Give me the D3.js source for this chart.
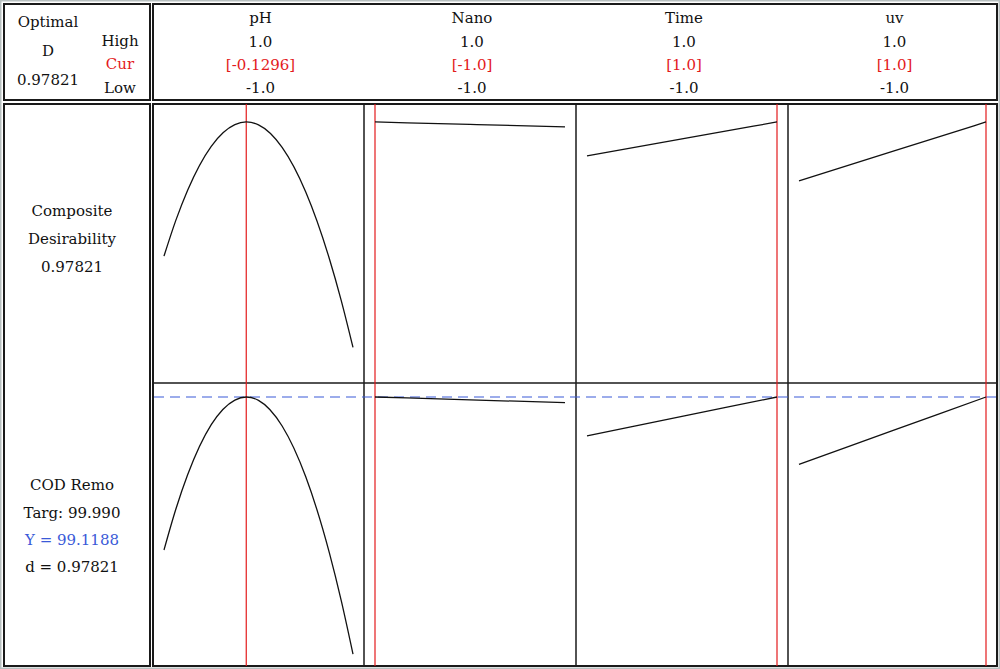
<!DOCTYPE html>
<html>
<head>
<meta charset="utf-8">
<script src="https://cdn.jsdelivr.net/npm/d3@7"></script>
<style>
  html, body { margin: 0; padding: 0; background: #fff; }
  svg { display: block; }
  text { font-family: "DejaVu Serif", serif; }
</style>
</head>
<body>
<svg id="chart" width="1000" height="669"></svg>
<script>
// ---------- data ----------
const factors    = ["pH", "Nano", "Time", "uv"];
const highLabels = ["1.0", "1.0", "1.0", "1.0"];
const curLabels  = ["[-0.1296]", "[-1.0]", "[1.0]", "[1.0]"];
const lowLabels  = ["-1.0", "-1.0", "-1.0", "-1.0"];
const curValues  = [-0.1296, -1.0, 1.0, 1.0];

const pHX    = [-1, -0.875, -0.75, -0.5, -0.25, -0.1296, 0, 0.25, 0.5, 0.75, 0.875, 1];
const desPH  = [0.6906, 0.7672, 0.8319, 0.9261, 0.9726, 0.9782, 0.9720, 0.9237, 0.8281, 0.6850, 0.5958, 0.4948];
const codPH  = [87.62, 90.68, 93.27, 97.04, 98.89, 99.12, 98.87, 96.94, 93.12, 87.40, 83.83, 79.79];

const linX    = [-1, 0, 1];
const desNano = [0.9782, 0.9730, 0.9675];
const codNano = [99.12, 98.91, 98.69];
const desTime = [0.9053, 0.9418, 0.9782];
const codTime = [96.20, 97.66, 99.12];
const desUv   = [0.8517, 0.9150, 0.9782];
const codUv   = [94.06, 96.59, 99.12];

const xValues   = [pHX, linX, linX, linX];
const desSeries = [desPH, desNano, desTime, desUv];
const codSeries = [codPH, codNano, codTime, codUv];

const optimalD  = "0.97821";
const targetY   = 99.1188;

// ---------- layout ----------
const svg = d3.select("#chart");
const L0 = 4, L1 = 150, P0 = 153, P1 = 997, T0 = 4, T1 = 100, B0 = 104, B1 = 666, RM = 383;
const colEdges = [153, 364, 576, 788, 997];
const RED = "#e31a1c", BLUE = "#3a5ad8";
const FS = 15;

// outer grey frame
svg.append("rect").attr("x", 0.5).attr("y", 0.5).attr("width", 999).attr("height", 668)
  .attr("fill", "none").attr("stroke", "#b8c0c0").attr("stroke-width", 2);

// boxes
const boxes = [[L0, T0, L1, T1], [P0, T0, P1, T1], [L0, B0, L1, B1], [P0, B0, P1, B1]];
boxes.forEach(b => {
  svg.append("rect").attr("x", b[0]).attr("y", b[1]).attr("width", b[2] - b[0]).attr("height", b[3] - b[1])
    .attr("fill", "#fff").attr("stroke", "#1a1a1a").attr("stroke-width", 2);
});

// scales
const yDes = d3.scaleLinear().domain([0.5, 1.0]).range([RM - 38, B0 + 7.8]);
const yCod = d3.scaleLinear().domain([80, 100]).range([RM + 268.3, RM + 2.3]);

// panel separators
colEdges.slice(1, 4).forEach(x => {
  svg.append("line").attr("x1", x).attr("x2", x).attr("y1", B0).attr("y2", B1)
    .attr("stroke", "#1a1a1a").attr("stroke-width", 1.5);
});
svg.append("line").attr("x1", P0).attr("x2", P1).attr("y1", RM).attr("y2", RM)
  .attr("stroke", "#1a1a1a").attr("stroke-width", 1.5);

// blue dashed current-Y line
svg.append("line").attr("x1", P0 + 1).attr("x2", P1 - 1).attr("y1", yCod(targetY)).attr("y2", yCod(targetY))
  .attr("stroke", BLUE).attr("stroke-width", 1.2).attr("stroke-dasharray", "10,6");

factors.forEach((f, i) => {
  const left = colEdges[i], right = colEdges[i + 1];
  const x = d3.scaleLinear().domain([-1, 1]).range([left + 11, right - 11]);
  const cx = (left + right) / 2;

  // red current lines
  svg.append("line").attr("x1", x(curValues[i])).attr("x2", x(curValues[i]))
    .attr("y1", B0).attr("y2", B1).attr("stroke", RED).attr("stroke-width", 1.2);

  const lineD = d3.line().x((d, k) => x(xValues[i][k])).y(d => yDes(d)).curve(d3.curveMonotoneX);
  const lineC = d3.line().x((d, k) => x(xValues[i][k])).y(d => yCod(d)).curve(d3.curveMonotoneX);
  svg.append("path").attr("d", lineD(desSeries[i])).attr("fill", "none").attr("stroke", "#111").attr("stroke-width", 1.3);
  svg.append("path").attr("d", lineC(codSeries[i])).attr("fill", "none").attr("stroke", "#111").attr("stroke-width", 1.3);

  // header texts
  const hdr = [[f, 18, "#111"], [highLabels[i], 42, "#111"], [curLabels[i], 65, RED], [lowLabels[i], 88, "#111"]];
  hdr.forEach(h => {
    svg.append("text").attr("x", cx + 2).attr("y", h[1]).attr("text-anchor", "middle")
      .attr("dominant-baseline", "central").attr("font-size", FS).attr("fill", h[2]).text(h[0]);
  });
});

// left header texts
const leftTexts = [
  ["Optimal", 48, 22, "#111"], ["D", 48, 51, "#111"], [optimalD, 48, 80, "#111"],
  ["High", 120, 41, "#111"], ["Cur", 120, 64, RED], ["Low", 120, 88, "#111"],
  ["Composite", 72, 211, "#111"], ["Desirability", 72, 239, "#111"], [optimalD, 72, 267, "#111"],
  ["COD Remo", 72, 485, "#111"], ["Targ: 99.990", 72, 513, "#111"], ["Y = " + targetY, 72, 540, BLUE], ["d = " + optimalD, 72, 567, "#111"]
];
leftTexts.forEach(t => {
  svg.append("text").attr("x", t[1]).attr("y", t[2]).attr("text-anchor", "middle")
    .attr("dominant-baseline", "central").attr("font-size", FS).attr("fill", t[3]).text(t[0]);
});
</script>
</body>
</html>
